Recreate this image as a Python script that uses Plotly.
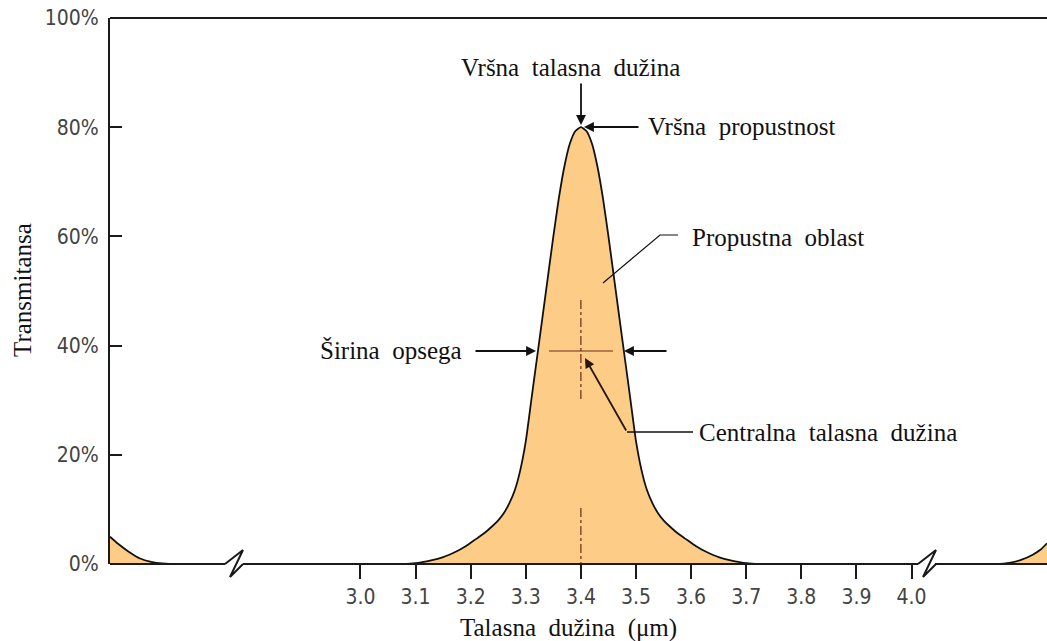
import plotly.graph_objects as go

# ---------------- data ----------------
left_wl = [2.5454, 2.56, 2.58, 2.60, 2.62, 2.64, 2.66]
left_T = [5.0, 3.7, 2.2, 1.0, 0.4, 0.1, 0.0]

peak_wl = [3.08, 3.09, 3.10, 3.11, 3.12, 3.13, 3.14, 3.15, 3.16, 3.17, 3.18, 3.19,
           3.20, 3.21, 3.22, 3.23, 3.24, 3.25, 3.26, 3.27, 3.28, 3.29, 3.30, 3.31,
           3.32, 3.33, 3.34, 3.35, 3.36, 3.37, 3.38, 3.39, 3.40, 3.41, 3.42, 3.43,
           3.44, 3.45, 3.46, 3.47, 3.48, 3.49, 3.50, 3.51, 3.52, 3.53, 3.54, 3.55,
           3.56, 3.57, 3.58, 3.59, 3.60, 3.61, 3.62, 3.63, 3.64, 3.65, 3.66, 3.67,
           3.68, 3.69, 3.70, 3.71, 3.72]
peak_T = [0.0, 0.05, 0.14, 0.28, 0.47, 0.7, 0.95, 1.25, 1.65, 2.1, 2.6, 3.2,
          3.9, 4.6, 5.3, 6.1, 7.0, 8.0, 9.3, 11.1, 13.5, 17.2, 22.5, 30.0,
          37.5, 45.0, 52.5, 60.0, 67.0, 72.8, 77.0, 79.3, 80.0, 79.3, 77.0, 72.8,
          67.0, 60.0, 52.5, 45.0, 37.5, 30.0, 22.5, 17.2, 13.5, 11.1, 9.3, 8.0,
          7.0, 6.1, 5.3, 4.6, 3.9, 3.2, 2.6, 2.1, 1.65, 1.25, 0.95, 0.7,
          0.47, 0.28, 0.14, 0.05, 0.0]

right_wl = [4.16, 4.18, 4.20, 4.22, 4.235, 4.2459]
right_T = [0.0, 0.25, 0.8, 1.7, 2.7, 3.8]

x_ticks = [3.0, 3.1, 3.2, 3.3, 3.4, 3.5, 3.6, 3.7, 3.8, 3.9, 4.0]
x_ticklabels = ["3.0", "3.1", "3.2", "3.3", "3.4", "3.5", "3.6", "3.7", "3.8", "3.9", "4.0"]
y_ticks = [0, 20, 40, 60, 80, 100]
y_ticklabels = ["0%", "20%", "40%", "60%", "80%", "100%"]

X_RANGE = [2.5454, 4.2459]
Y_RANGE = [0, 100]

# ---------------- layout helpers ----------------
W, H = 1047, 641
L, R, T, B = 110, 0, 18, 77
PW, PH = W - L - R, H - T - B


def X(px):
    return X_RANGE[0] + (px - L) / PW * (X_RANGE[1] - X_RANGE[0])


def Y(py):
    return Y_RANGE[0] + (T + PH - py) / PH * (Y_RANGE[1] - Y_RANGE[0])


def PX(px):
    return (px - L) / PW


def PY(py):
    return (T + PH - py) / PH


FILL = "#FDCD88"
INK = "#111111"
CROSS = "#6e2816"
SERIF = "Liberation Serif, Times New Roman, serif"
NARROW = "Liberation Sans Narrow, Arial Narrow, DejaVu Sans Condensed, sans-serif"

fig = go.Figure()
for xs, ys in [(left_wl, left_T), (peak_wl, peak_T), (right_wl, right_T)]:
    fig.add_trace(go.Scatter(
        x=xs, y=ys, mode="lines", fill="tozeroy", fillcolor=FILL,
        line=dict(color=INK, width=1.8, shape="spline", smoothing=0.5),
        hoverinfo="skip", showlegend=False))

shapes = []
# top border
shapes.append(dict(type="line", xref="paper", yref="paper", x0=0, x1=1, y0=1, y1=1,
                   line=dict(color="#1a1a1a", width=2)))
# baseline with breaks
for a, b in [(110, 225), (243, 918), (935, 1047)]:
    shapes.append(dict(type="line", xref="paper", yref="paper", x0=PX(a), x1=PX(b),
                       y0=0, y1=0, line=dict(color="#1a1a1a", width=2)))
for bx in [225, 918]:
    path = (f"M {PX(bx)},{PY(564)} L {PX(bx + 18)},{PY(550)} "
            f"L {PX(bx + 5)},{PY(577)} L {PX(bx + 18)},{PY(564)}")
    shapes.append(dict(type="path", xref="paper", yref="paper", path=path,
                       line=dict(color="#1a1a1a", width=2)))
# crosshair at centre wavelength
shapes.append(dict(type="line", x0=X(549), x1=X(613), y0=Y(351), y1=Y(351),
                   line=dict(color=CROSS, width=1)))
shapes.append(dict(type="line", x0=3.4, x1=3.4, y0=Y(300), y1=Y(400),
                   line=dict(color=CROSS, width=1.2, dash="dashdot")))
shapes.append(dict(type="line", x0=3.4, x1=3.4, y0=Y(508), y1=Y(563),
                   line=dict(color=CROSS, width=1.2, dash="dashdot")))
# leader for "Propustna oblast"
shapes.append(dict(type="path",
                   path=f"M {X(678)},{Y(235)} L {X(660)},{Y(235)} L {X(603)},{Y(283)}",
                   line=dict(color=INK, width=1.2)))
# leader for "Centralna talasna dužina"
shapes.append(dict(type="line", x0=X(627), x1=X(693), y0=Y(432), y1=Y(432),
                   line=dict(color=INK, width=1.6)))

annotations = []


def arrow(tail, head, color=INK, width=1.8):
    annotations.append(dict(
        x=X(head[0]), y=Y(head[1]), ax=X(tail[0]), ay=Y(tail[1]),
        xref="x", yref="y", axref="x", ayref="y", text="", showarrow=True,
        arrowhead=2, arrowsize=1.1, arrowwidth=width, arrowcolor=color,
        standoff=0, startstandoff=0))


def label(text, px, py, xanchor="left", size=25, angle=0):
    annotations.append(dict(
        x=PX(px), y=PY(py), xref="paper", yref="paper", text=text, showarrow=False,
        xanchor=xanchor, yanchor="middle", textangle=angle,
        font=dict(family=SERIF, size=size, color="#111111")))


SP = "\u2002"
label(f"Vršna{SP}talasna{SP}dužina", 570, 67, xanchor="center")
arrow((581, 82), (581, 125))
label(f"Vršna{SP}propustnost", 646, 127)
arrow((640, 127), (584, 127))
label(f"Propustna{SP}oblast", 690, 237)
label(f"Širina{SP}opsega", 464, 350, xanchor="right")
arrow((474, 351), (536, 351))
arrow((668, 351), (624, 351))
label(f"Centralna{SP}talasna{SP}dužina", 697, 432)
arrow((627, 432), (585, 358), color="#2a1510")
# axis titles
label(f"Talasna{SP}dužina{SP}(μm)", 568, 628, xanchor="center")
label("Transmitansa", 22, 290, xanchor="center", angle=-90)

fig.update_layout(
    width=W, height=H,
    margin=dict(l=L, r=R, t=T, b=B, pad=0),
    paper_bgcolor="white", plot_bgcolor="white",
    shapes=shapes, annotations=annotations,
    xaxis=dict(range=X_RANGE, tickvals=x_ticks, ticktext=x_ticklabels,
               showgrid=False, zeroline=False, showline=False,
               ticks="outside", ticklen=14, tickwidth=2, tickcolor="#1a1a1a",
               tickfont=dict(family=NARROW, size=21, color="#444444")),
    yaxis=dict(range=Y_RANGE, tickvals=y_ticks, ticktext=y_ticklabels,
               showgrid=False, zeroline=False, showline=True, linewidth=2,
               linecolor="#1a1a1a",
               ticks="inside", ticklen=12, tickwidth=2, tickcolor="#1a1a1a",
               ticklabelstandoff=5,
               tickfont=dict(family=NARROW, size=21, color="#444444")),
)

fig.write_html("out.html", config={"displayModeBar": False},
               post_script="document.body.style.margin='0px';document.body.style.overflow='hidden';")
